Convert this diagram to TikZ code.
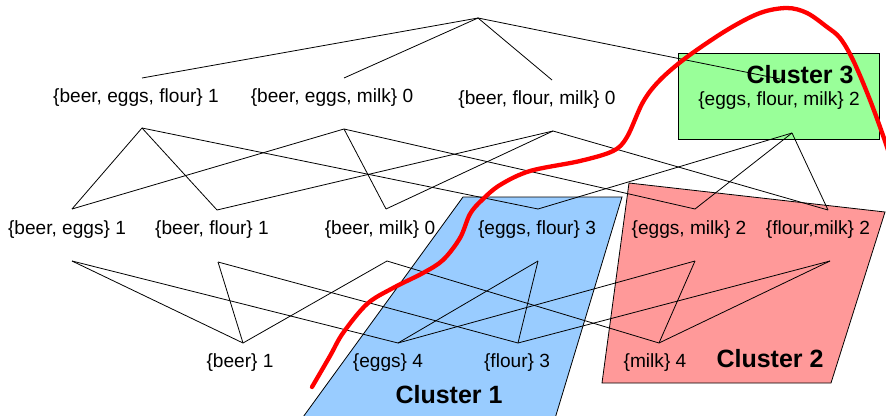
\documentclass[tikz,border=0pt]{standalone}
\usepackage{fontspec}
\setmainfont{Liberation Sans}
\definecolor{cblue}{RGB}{153,204,255}
\definecolor{cpink}{RGB}{255,153,153}
\definecolor{cgreen}{RGB}{153,255,153}
\definecolor{cred}{RGB}{255,0,0}
\begin{document}
\begin{tikzpicture}[x=1pt,y=-1pt,
  lbl/.style={font=\fontsize{19.1}{21}\selectfont, inner sep=0pt, anchor=base},
  clab/.style={font=\fontsize{25}{28}\selectfont\bfseries, inner sep=0pt, anchor=base},
  edge/.style={line width=0.8pt, black},
  region/.style={draw=black, line width=0.8pt}]
\useasboundingbox (0,0) rectangle (886,415);
\clip (0,0) rectangle (886,415);
% cluster regions
\fill[white] (0,0) rectangle (886,415);
\draw[region, fill=cblue] (463,197) -- (622,197) -- (550,435) -- (290,435) -- cycle;
\draw[region, fill=cpink] (629,183) -- (885,212) -- (831,383) -- (602,383) -- cycle;
\draw[region, fill=cgreen] (678,53) rectangle (879,139);
% connector points
\coordinate (top) at (478,18);
\coordinate (bef-t) at (142,78);  \coordinate (bef-b) at (142,128);
\coordinate (bem-t) at (344,78);  \coordinate (bem-b) at (344,129);
\coordinate (bfm-t) at (552,80);  \coordinate (bfm-b) at (553,131);
\coordinate (efm-t) at (780,79);  \coordinate (efm-b) at (792,133);
\coordinate (be-t) at (72,209);   \coordinate (be-b) at (72,261);
\coordinate (bf-t) at (217,210);  \coordinate (bf-b) at (218,262);
\coordinate (bm-t) at (386,209);  \coordinate (bm-b) at (387,261);
\coordinate (ef-t) at (538,209);  \coordinate (ef-b) at (538,261);
\coordinate (em-t) at (695,209);  \coordinate (em-b) at (695,261);
\coordinate (fm-t) at (828,210);  \coordinate (fm-b) at (830,261);
\coordinate (b-t) at (243,343);
\coordinate (e-t) at (398,343);
\coordinate (f-t) at (518,343);
\coordinate (m-t) at (659,343);
% edges
\draw[edge] (top) -- (bef-t);
\draw[edge] (top) -- (bem-t);
\draw[edge] (top) -- (bfm-t);
\draw[edge] (top) -- (efm-t);
\draw[edge] (bef-b) -- (be-t);
\draw[edge] (bef-b) -- (bf-t);
\draw[edge] (bef-b) -- (ef-t);
\draw[edge] (bem-b) -- (be-t);
\draw[edge] (bem-b) -- (bm-t);
\draw[edge] (bem-b) -- (em-t);
\draw[edge] (bfm-b) -- (bf-t);
\draw[edge] (bfm-b) -- (bm-t);
\draw[edge] (bfm-b) -- (fm-t);
\draw[edge] (efm-b) -- (ef-t);
\draw[edge] (efm-b) -- (em-t);
\draw[edge] (efm-b) -- (fm-t);
\draw[edge] (be-b) -- (b-t);
\draw[edge] (be-b) -- (e-t);
\draw[edge] (bf-b) -- (b-t);
\draw[edge] (bf-b) -- (f-t);
\draw[edge] (bm-b) -- (b-t);
\draw[edge] (bm-b) -- (m-t);
\draw[edge] (ef-b) -- (e-t);
\draw[edge] (ef-b) -- (f-t);
\draw[edge] (em-b) -- (e-t);
\draw[edge] (em-b) -- (m-t);
\draw[edge] (fm-b) -- (f-t);
\draw[edge] (fm-b) -- (m-t);
% labels
\node[lbl] (bef) at (136,102) {\{beer, eggs, flour\} 1};
\node[lbl] (bem) at (332,102) {\{beer, eggs, milk\} 0};
\node[lbl] (bfm) at (537,104) {\{beer, flour, milk\} 0};
\node[lbl] (efm) at (779,105) {\{eggs, flour, milk\} 2};
\node[lbl] (be) at (67,234) {\{beer, eggs\} 1};
\node[lbl] (bf) at (212,234) {\{beer, flour\} 1};
\node[lbl] (bm) at (380,234) {\{beer, milk\} 0};
\node[lbl] (ef) at (537,234) {\{eggs, flour\} 3};
\node[lbl] (em) at (689,234) {\{eggs, milk\} 2};
\node[lbl] (fm) at (818,234) {\{flour,milk\} 2};
\node[lbl] (b) at (240,367) {\{beer\} 1};
\node[lbl] (e) at (388,367) {\{eggs\} 4};
\node[lbl] (f) at (517,367) {\{flour\} 3};
\node[lbl] (m) at (655,367) {\{milk\} 4};
\node[clab] (c1) at (449,403) {Cluster 1};
\node[clab] (c2) at (770,367) {Cluster 2};
\node[clab] (c3) at (800,83) {Cluster 3};
% separating curve
\draw[cred, line width=4.3pt, line cap=round] plot[smooth, tension=0.55] coordinates {
  (312,387) (330,356) (343,333) (367,304) (393,288) (423,273) (443,260)
  (460,238) (470,214) (482,200) (500,185) (530,171) (580,161) (613,151)
  (627,137) (643,102) (660,80) (687,57) (727,30) (760,13) (787,8) (807,13)
  (827,27) (840,38) (853,60) (870,100) (887,147) (895,175)};
\end{tikzpicture}
\end{document}
